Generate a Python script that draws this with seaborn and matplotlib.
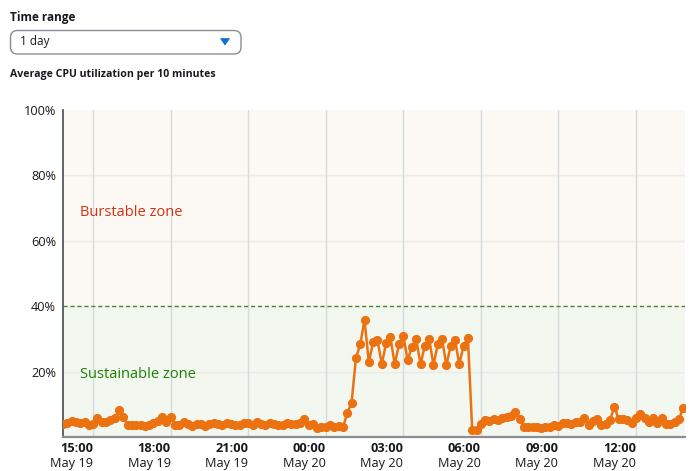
import matplotlib
matplotlib.use("Agg")
import matplotlib.pyplot as plt
import matplotlib.dates as mdates
from matplotlib.patches import FancyBboxPatch, Polygon
import numpy as np
import pandas as pd
import seaborn as sns

# ---------------- data ----------------
start_time = "2024-05-19 13:50"
interval = "10min"
cpu_pct = [
    4.0, 4.3, 4.8, 4.5, 4.2, 4.6, 3.8, 4.0, 5.8, 4.5, 4.6, 5.2, 5.8, 8.3, 6.0, 3.6,
    3.8, 3.7, 3.6, 3.4, 3.8, 4.3, 5.0, 6.0, 4.5, 6.2, 3.8, 3.7, 4.5, 4.0, 3.4, 4.0,
    4.1, 3.4, 4.0, 4.3, 4.0,
    3.8, 4.3, 4.0, 3.6, 3.8, 4.4, 4.2, 3.6, 4.5, 3.9, 3.6, 4.2, 3.9, 3.6, 3.8, 4.2,
    3.9, 4.1, 4.4, 5.4, 3.6, 4.0, 2.9, 3.1, 3.2, 3.6, 3.1, 3.5, 3.0,
    7.3, 10.5, 24.1, 28.3, 35.8, 22.8, 29.0, 29.7, 22.3, 28.6, 30.5, 22.3, 28.3,
    31.0, 23.5, 27.6, 29.9, 22.3, 27.9, 30.1, 22.0, 28.3, 29.9, 22.0, 27.8, 29.7,
    22.3, 27.9, 30.3, 2.1, 2.1,
    3.9, 5.2, 5.0, 5.4, 5.2, 5.8, 6.1, 6.5, 7.7, 5.6, 3.2, 3.2, 3.0, 3.2, 2.7, 3.0,
    3.2, 3.7, 3.5, 4.2, 4.2, 3.9, 4.5, 4.7, 5.7, 3.7, 4.9, 5.4, 3.7, 3.9, 5.2, 9.3,
    5.4, 5.4, 5.2, 4.2, 5.7, 7.1, 5.7, 4.7, 5.7, 4.2, 5.7, 3.9, 3.9, 4.7, 5.4, 9.0,
]
tick_times = ["2024-05-19 15:00", "2024-05-19 18:00", "2024-05-19 21:00",
              "2024-05-20 00:00", "2024-05-20 03:00", "2024-05-20 06:00",
              "2024-05-20 09:00", "2024-05-20 12:00"]
tick_hours = ["15:00", "18:00", "21:00", "00:00", "03:00", "06:00", "09:00", "12:00"]
tick_dates = ["May 19", "May 19", "May 19", "May 20", "May 20", "May 20", "May 20", "May 20"]
y_ticks = [20, 40, 60, 80, 100]
threshold = 40
zone_labels = ["Burstable zone", "Sustainable zone"]

times = pd.date_range(start_time, periods=len(cpu_pct), freq=interval)
df = pd.DataFrame({"time": times, "cpu": cpu_pct})

# ---------------- style ----------------
sns.set_theme(style="white")
plt.rcParams["font.family"] = ["Open Sans", "DejaVu Sans"]

W, H = 690, 471
fig = plt.figure(figsize=(W / 100, H / 100), dpi=100)
fig.patch.set_facecolor("white")

L, R, T, B = 63, 685, 110, 437
ax = fig.add_axes([L / W, (H - B) / H, (R - L) / W, (B - T) / H])

orange = "#ec7211"
text_dark = "#16191f"

ax.axhspan(threshold, 100, color="#fcf8f3", zorder=0, lw=0)
ax.axhspan(0, threshold, color="#f2f7f0", zorder=0, lw=0)

for yv in y_ticks:
    if yv not in (threshold, 100):
        ax.axhline(yv, color="#e9ece7", lw=1, zorder=1)
ax.axhline(threshold, color="#3f8a2f", lw=1, ls=(0, (3, 2)), zorder=2)

tick_dt = pd.to_datetime(tick_times)
for t in tick_dt:
    ax.axvline(t, color="#d5dbdb", lw=1, zorder=1)

sns.lineplot(data=df, x="time", y="cpu", ax=ax, color=orange, lw=1.8,
             marker="o", markersize=5.8, markeredgecolor=orange,
             markeredgewidth=0.8, zorder=5)

x0 = pd.Timestamp(start_time)
ax.set_xlim(x0, x0 + pd.Timedelta(hours=24, minutes=4))
ax.set_ylim(0, 100)

ax.set_xticks(tick_dt)
ax.set_xticklabels([])
ax.tick_params(axis="x", length=0)
for t, hh, dd in zip(tick_dt, tick_hours, tick_dates):
    ax.annotate(hh, xy=(t, 0), xycoords=("data", "axes fraction"),
                xytext=(0, -12), textcoords="offset pixels", ha="right",
                va="center", fontsize=9.2, fontweight="bold", color=text_dark)
    ax.annotate(dd, xy=(t, 0), xycoords=("data", "axes fraction"),
                xytext=(0, -27), textcoords="offset pixels", ha="right",
                va="center", fontsize=9.2, color=text_dark)

ax.set_yticks(y_ticks)
ax.set_yticklabels([f"{v}%" for v in y_ticks], fontsize=9.2, color=text_dark)
ax.tick_params(axis="y", length=0, pad=5)
ax.set_xlabel("")
ax.set_ylabel("")
ax.grid(False)

for s in ["top", "right"]:
    ax.spines[s].set_visible(False)
ax.spines["left"].set_color("#414d5c")
ax.spines["left"].set_linewidth(1.2)
ax.spines["bottom"].set_color("#8c8c94")
ax.spines["bottom"].set_linewidth(1.6)

ax.text(0.027, 68.8, zone_labels[0], transform=ax.get_yaxis_transform(),
        color="#d13212", fontsize=10.5, va="center", ha="left")
ax.text(0.027, 19.0, zone_labels[1], transform=ax.get_yaxis_transform(),
        color="#1d8102", fontsize=10.5, va="center", ha="left")

# ---------------- header (overlay in pixel coords) ----------------
ov = fig.add_axes([0, 0, 1, 1], zorder=10)
ov.set_xlim(0, W)
ov.set_ylim(H, 0)
ov.patch.set_facecolor("none")
ov.axis("off")

ov.text(10, 17, "Time range", fontsize=8.5, fontweight="bold",
        color=text_dark, va="center", ha="left")
box = FancyBboxPatch((10.5, 30.5), 230.5, 23.5,
                     boxstyle="round,pad=0,rounding_size=7",
                     fc="white", ec="#8c8c94", lw=1.0)
ov.add_patch(box)
ov.text(20, 42, "1 day", fontsize=8.5, color=text_dark, va="center", ha="left")
ov.add_patch(Polygon([[220.5, 38.5], [229.5, 38.5], [225, 45]], closed=True,
                     fc="#0972d3", ec="#0972d3", lw=0.5))
ov.text(10, 74, "Average CPU utilization per 10 minutes", fontsize=7.6,
        fontweight="bold", color=text_dark, va="center", ha="left")

fig.savefig("out.png", dpi=100)
